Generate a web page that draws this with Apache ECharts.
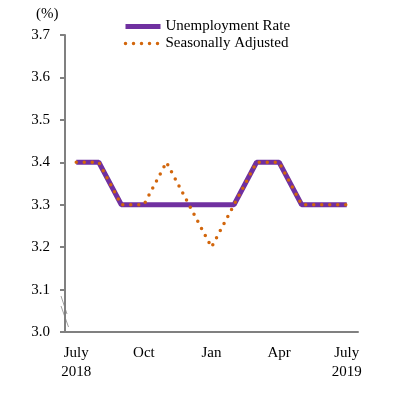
<!DOCTYPE html>
<html>
<head>
<meta charset="utf-8">
<script src="https://cdn.jsdelivr.net/npm/echarts@6/dist/echarts.min.js"></script>
<style>
  html, body { margin: 0; padding: 0; background: #fff; }
  #chart { width: 397px; height: 400px; }
</style>
</head>
<body>
<div id="chart"></div>
<script>
// months from July 2018 to July 2019
const months = ['Jul 2018', 'Aug', 'Sep', 'Oct', 'Nov', 'Dec', 'Jan', 'Feb', 'Mar', 'Apr', 'May', 'Jun', 'Jul 2019'];
const monthLabels = ['July\n2018', '', '', 'Oct', '', '', 'Jan', '', '', 'Apr', '', '', 'July\n2019'];
const unemploymentRate = [3.4, 3.4, 3.3, 3.3, 3.3, 3.3, 3.3, 3.3, 3.4, 3.4, 3.3, 3.3, 3.3];
const seasonallyAdjusted = [3.4, 3.4, 3.3, 3.3, 3.4, 3.3, 3.2, 3.3, 3.4, 3.4, 3.3, 3.3, 3.3];

const font = '"Liberation Serif", "Times New Roman", serif';
const axisGray = '#808080';
const purple = '#7030A0';
const orange = '#D2660C';

let chart = echarts.init(document.getElementById('chart'));

let options = {
    animation: false,
    textStyle: { fontFamily: font, color: '#000' },
    legend: {
        orient: 'vertical',
        left: 123,
        top: 19,
        padding: 0,
        itemWidth: 35,
        itemHeight: 5,
        itemGap: 2,
        textStyle: { fontFamily: font, fontSize: 15, color: '#000' },
        data: [
            { name: 'Unemployment Rate', itemStyle: { opacity: 0 }, lineStyle: { width: 5, color: purple } },
            { name: 'Seasonally Adjusted', itemStyle: { opacity: 0 }, lineStyle: { width: 3.5, color: orange, type: [0, 8], cap: 'round' } }
        ]
    },
    grid: { left: 65, right: 39, top: 35, bottom: 68 },
    xAxis: {
        type: 'category',
        data: months,
        boundaryGap: true,
        axisLine: { lineStyle: { color: axisGray, width: 2 } },
        axisTick: { interval: 0, length: 4, lineStyle: { color: axisGray, width: 2 } },
        axisLabel: {
            interval: 0,
            margin: 12,
            fontFamily: font,
            fontSize: 15,
            color: '#000',
            lineHeight: 19,
            formatter: (v, i) => monthLabels[i]
        }
    },
    yAxis: {
        type: 'value',
        min: 3.0,
        max: 3.7,
        interval: 0.1,
        splitLine: { show: false },
        axisLine: { show: true, lineStyle: { color: axisGray, width: 2 } },
        axisTick: { show: true, length: 5, lineStyle: { color: axisGray, width: 2 } },
        axisLabel: {
            margin: 15,
            fontFamily: font,
            fontSize: 15,
            color: '#000',
            formatter: v => v.toFixed(1)
        }
    },
    graphic: [
        { type: 'text', left: 36, top: 7, style: { text: '(%)', font: '15px ' + font, fill: '#000' } },
        // axis break marks
        { type: 'line', shape: { x1: 61, y1: 296, x2: 67, y2: 314 }, style: { stroke: '#a0a0a0', lineWidth: 1 } },
        { type: 'line', shape: { x1: 61, y1: 306, x2: 68.5, y2: 327 }, style: { stroke: '#a0a0a0', lineWidth: 1 } }
    ],
    series: [
        {
            name: 'Unemployment Rate',
            type: 'line',
            data: unemploymentRate,
            symbol: 'none',
            color: purple,
            lineStyle: { color: purple, width: 5 },
            z: 2
        },
        {
            name: 'Seasonally Adjusted',
            type: 'line',
            data: seasonallyAdjusted,
            symbol: 'none',
            color: orange,
            lineStyle: { color: orange, width: 3.5, type: [0, 8], cap: 'round' },
            z: 3
        }
    ]
};

chart.setOption(options);
</script>
</body>
</html>
